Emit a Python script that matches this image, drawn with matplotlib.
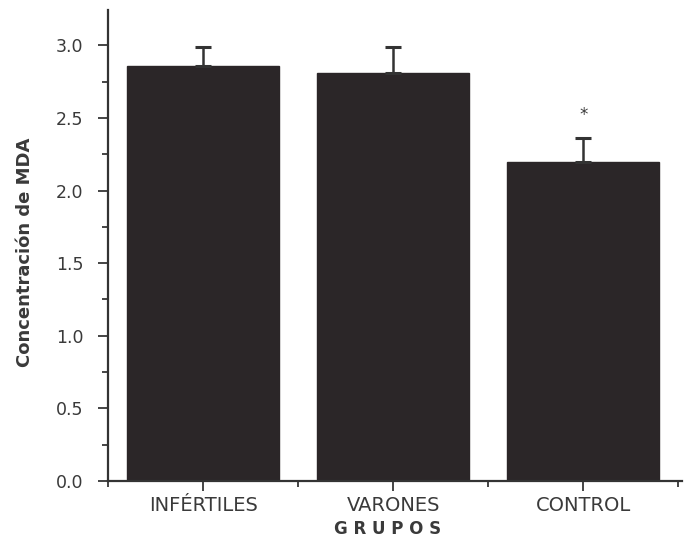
import matplotlib
matplotlib.use("Agg")
import matplotlib.pyplot as plt
from matplotlib.ticker import MultipleLocator, FixedLocator

plt.rcParams['font.family'] = ['DejaVu Sans']

categories = ["INFÉRTILES", "VARONES", "CONTROL"]
values = [2.86, 2.81, 2.195]
errors = [0.13, 0.18, 0.165]
sig_marks = ["", "", "*"]
sig_y = [None, None, 2.52]

bar_color = "#2b2628"
text_color = "#3a3a3a"

fig = plt.figure(figsize=(6.85, 5.39), dpi=100)
ax = fig.add_axes([0.158, 0.1076, 0.838, 0.873])

x = list(range(len(categories)))
ax.bar(x, values, width=0.8, color=bar_color, edgecolor=bar_color, zorder=2)
ax.errorbar(x, values, yerr=[[0]*len(errors), errors], fmt='none',
            ecolor="#333333", elinewidth=1.8, capsize=6, capthick=2.2, zorder=3)
for xi, m, sy in zip(x, sig_marks, sig_y):
    if m:
        ax.text(xi, sy, m, ha='center', va='center', fontsize=12, color=text_color)

ax.set_xlim(-0.5, 2.52)
ax.set_xticks(x)
ax.set_xticklabels(categories, fontsize=14, color=text_color)
ax.xaxis.set_minor_locator(FixedLocator([-0.5, 0.5, 1.5, 2.5]))
yt = [0.0, 0.5, 1.0, 1.5, 2.0, 2.5, 3.0]
ax.set_yticks(yt)
ax.set_yticklabels([f"{v:.1f}" for v in yt], fontsize=12.5, color=text_color)
ax.yaxis.set_minor_locator(MultipleLocator(0.25))
ax.set_ylim(0, 3.24)

ax.tick_params(axis='both', which='major', direction='out', length=7, width=1.4, colors="#444444", labelcolor=text_color)
ax.tick_params(axis='both', which='minor', direction='out', length=4, width=1.4, colors="#444444")
ax.tick_params(axis='y', pad=11)
ax.tick_params(axis='x', pad=4)

for s in ['top', 'right']:
    ax.spines[s].set_visible(False)
for s in ['left', 'bottom']:
    ax.spines[s].set_linewidth(1.6)
    ax.spines[s].set_color("#333333")

fig.text(25/685, 1 - 252/539, "Concentración de MDA", rotation=90, ha='center', va='center',
         fontsize=13, fontweight='bold', color=text_color)
fig.text(388/685, 1 - 529/539, "G R U P O S", ha='center', va='center',
         fontsize=12, fontweight='bold', color=text_color)

fig.savefig("out.png", dpi=100)
